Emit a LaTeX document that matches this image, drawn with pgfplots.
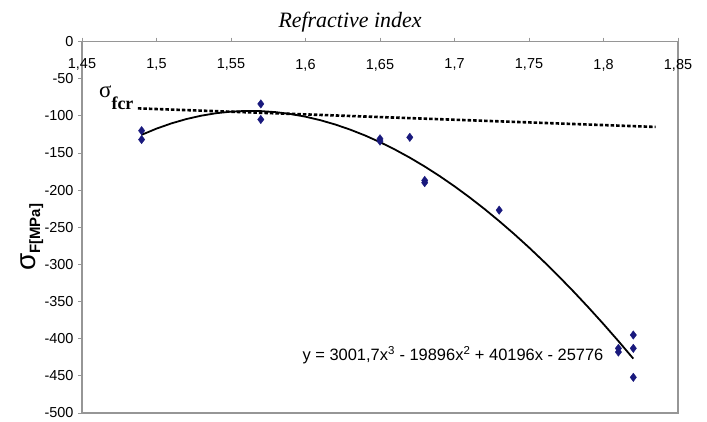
\documentclass[border=0pt]{standalone}
\usepackage{fontspec}
\setmainfont{Liberation Sans}
\newfontfamily\timesfont{Liberation Serif}
\usepackage{pgfplots}
\pgfplotsset{compat=1.18}
\definecolor{markblue}{RGB}{25,25,125}
\definecolor{axgray}{RGB}{150,150,150}

\begin{document}
\begin{tikzpicture}[x=1bp,y=1bp]
\path[use as bounding box] (0,0) rectangle (707,421);
\begin{axis}[
  at={(82bp,8bp)}, anchor=south west,
  scale only axis, width=596bp, height=371.5bp,
  xmin=1.45, xmax=1.85, ymin=-500, ymax=0,
  clip=false,
  xtick={1.45,1.5,1.55,1.6,1.65,1.7,1.75,1.8,1.85},
  xticklabels={{1,45},{1,5},{1,55},{1,6},{1,65},{1,7},{1,75},{1,8},{1,85}},
  ytick={-500,-450,-400,-350,-300,-250,-200,-150,-100,-50,0},
  yticklabels={-500,-450,-400,-350,-300,-250,-200,-150,-100,-50,0},
  xtick pos=right, xticklabel pos=right,
  ytick pos=left,
  tick align=outside, major tick length=4bp,
  tick style={axgray, line width=0.8bp},
  axis line style={axgray, line width=1.2bp},
  ticklabel style={font=\fontsize{14.5}{16}\selectfont},
  xticklabel style={anchor=north, yshift=-18bp},
  yticklabel style={xshift=-1bp},
]
% measured specimens
\addplot[only marks, mark=diamond*, mark size=4.2bp, color=markblue]
  coordinates {
    (1.49,-120) (1.49,-132)
    (1.57,-84) (1.57,-105)
    (1.65,-131) (1.65,-134)
    (1.67,-129)
    (1.68,-187) (1.68,-190)
    (1.73,-227)
    (1.81,-413) (1.81,-418)
    (1.82,-395) (1.82,-413) (1.82,-452)
  };
% critical stress level
\addplot[black, line width=2.6bp, dash pattern=on 3.5bp off 2bp]
  coordinates {(1.4875,-90) (1.835,-115)};
% cubic trend line
\addplot[black, line width=1.8bp]
  coordinates {
    (1.49,-125.60) (1.50,-117.26) (1.51,-110.20) (1.52,-104.40)
    (1.53,-99.85) (1.54,-96.51) (1.55,-94.39) (1.56,-93.44)
    (1.57,-93.67) (1.58,-95.05) (1.59,-97.57) (1.60,-101.20)
    (1.61,-105.92) (1.62,-111.73) (1.63,-118.60) (1.64,-126.51)
    (1.65,-135.45) (1.66,-145.39) (1.67,-156.33) (1.68,-168.23)
    (1.69,-181.09) (1.70,-194.89) (1.71,-209.60) (1.72,-225.21)
    (1.73,-241.71) (1.74,-259.06) (1.75,-277.26) (1.76,-296.29)
    (1.77,-316.13) (1.78,-336.76) (1.79,-358.17) (1.80,-380.33)
    (1.81,-403.22) (1.82,-426.84)
  };
\node[font=\fontsize{16.5}{18}\selectfont] at (axis cs:1.699,-422)
  {y = 3001,7x\textsuperscript{3} - 19896x\textsuperscript{2} + 40196x - 25776};
\end{axis}
% title
\node[anchor=base, font=\timesfont\itshape\fontsize{22}{24}\selectfont] at (350,393) {Refractive index};
% critical stress label
\node[anchor=base west, inner sep=0pt] at (99,324)
  {\timesfont\fontsize{23}{23}\selectfont σ\raisebox{-12bp}{\fontsize{18}{18}\selectfont\bfseries fcr}};
% y axis label
\node[rotate=90, anchor=base west, inner sep=0pt] at (35,150)
  {\fontsize{28}{28}\selectfont σ\raisebox{-5bp}{\fontsize{15}{15}\selectfont\bfseries F[MPa]}};
\end{tikzpicture}
\end{document}
